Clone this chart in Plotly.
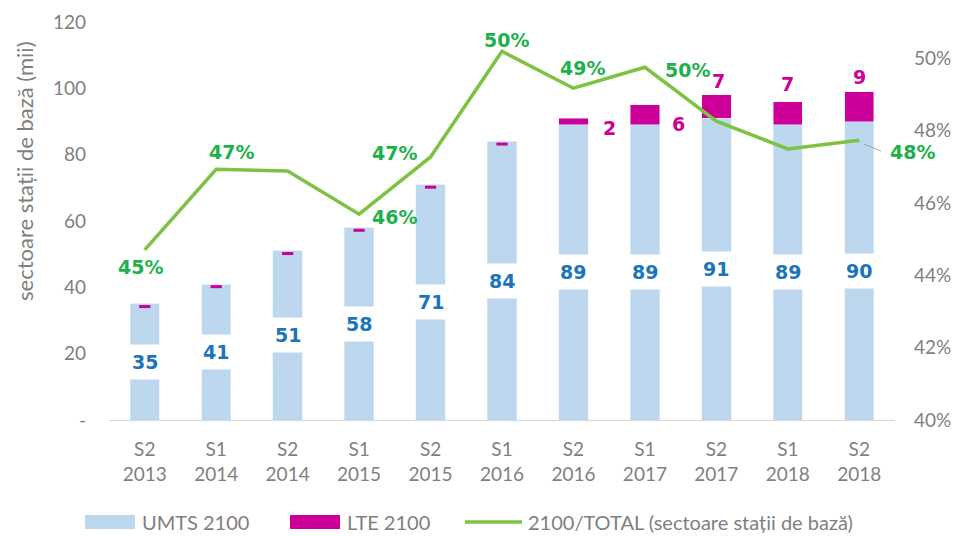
import plotly.graph_objects as go

categories = ["S2<br>2013", "S1<br>2014", "S2<br>2014", "S1<br>2015", "S2<br>2015",
              "S1<br>2016", "S2<br>2016", "S1<br>2017", "S2<br>2017", "S1<br>2018", "S2<br>2018"]
umts = [35, 41, 51, 58, 71, 84, 89, 89, 91, 89, 90]
lte = [0, 0, 0, 0, 0, 0, 2, 6, 7, 7, 9]
lte_small_marks = [True, True, True, True, True, True, False, False, False, False, False]
share = [0.447, 0.4693, 0.4688, 0.4569, 0.4727, 0.5019, 0.4917, 0.4975, 0.4826, 0.4749, 0.4773]
share_labels = ["45%", "47%", "", "46%", "47%", "50%", "49%", "50%", "", "", "48%"]
left_ticks = [0, 20, 40, 60, 80, 100, 120]
left_ticktext = ["-", "20", "40", "60", "80", "100", "120"]
right_ticks = [0.40, 0.42, 0.44, 0.46, 0.48, 0.50]
series_names = ["UMTS 2100", "LTE 2100", "2100/TOTAL (sectoare stații de bază)"]
y_title = "sectoare stații de bază (mii)"

BLUE_BAR = "#BDD7EE"
PINK = "#CC0099"
GREEN_LINE = "#7DC243"
GREEN_TXT = "#1DB14B"
BLUE_TXT = "#1B75BC"
GRAY = "#7F7F7F"
FONT = "Lato"
LBL_FONT = "DejaVu Sans"

# plot area geometry (pixels)
L, T, W, H = 109, 22, 786, 398


def px_x(p):
    return (p - L) / W


def px_y(p):
    return (T + H - p) / H


fig = go.Figure()
fig.add_trace(go.Bar(x=categories, y=umts, name=series_names[0], marker_color=BLUE_BAR,
                     width=0.41, hoverinfo="skip", showlegend=False))
fig.add_trace(go.Bar(x=categories, y=lte, name=series_names[1], marker_color=PINK,
                     width=0.41, hoverinfo="skip", showlegend=False))
mx = [c for c, m in zip(categories, lte_small_marks) if m]
my = [u - 0.8 for u, m in zip(umts, lte_small_marks) if m]
fig.add_trace(go.Scatter(x=mx, y=my, mode="markers", showlegend=False, hoverinfo="skip",
                         marker=dict(symbol="line-ew", size=8, line=dict(color=PINK, width=3))))
fig.add_trace(go.Scatter(x=categories, y=share, name=series_names[2], showlegend=False,
                         mode="lines", line=dict(color=GREEN_LINE, width=3.5), yaxis="y2",
                         hoverinfo="skip"))
fig.update_layout(barmode="stack")

annotations = []
for c, u in zip(categories, umts):
    annotations.append(dict(x=c, y=u / 2, text=f"<b>{u}</b>", showarrow=False,
                            font=dict(family=LBL_FONT, size=19, color=BLUE_TXT),
                            bgcolor="white", borderpad=6))
lte_pos = {6: (36, -10), 7: (34, -19), 8: (2, 14), 9: (0, 18), 10: (0, 15)}
for i, v in enumerate(lte):
    if v > 0:
        xs, ys = lte_pos[i]
        annotations.append(dict(x=categories[i], y=umts[i] + v, text=f"<b>{v}</b>",
                                showarrow=False, xshift=xs, yshift=ys,
                                font=dict(family=LBL_FONT, size=19, color=PINK)))
share_pos = {0: (-4, -17), 1: (15, 17), 3: (35, -3), 4: (-36, 4), 5: (4, 11),
             6: (9, 20), 7: (43, -3), 10: (53, -12)}
for i, t in enumerate(share_labels):
    if not t:
        continue
    xs, ys = share_pos[i]
    annotations.append(dict(x=categories[i], y=share[i], yref="y2", text=f"<b>{t}</b>",
                            showarrow=False, xshift=xs, yshift=ys,
                            font=dict(family=LBL_FONT, size=19, color=GREEN_TXT)))

# y-axis title placed as in the reference (above centre)
annotations.append(dict(x=px_x(24), y=px_y(171), xref="paper", yref="paper", text=y_title,
                        xanchor="center", yanchor="middle",
                        textangle=-90, showarrow=False,
                        font=dict(family=FONT, size=22, color=GRAY)))

shapes = []
# leader line for the last share label
shapes.append(dict(type="line", xref="paper", yref="paper",
                   x0=px_x(864), y0=px_y(144), x1=px_x(881), y1=px_y(151),
                   line=dict(color="#A6A6A6", width=1)))
# custom legend
shapes.append(dict(type="rect", xref="paper", yref="paper", x0=px_x(85), x1=px_x(135),
                   y0=px_y(515), y1=px_y(529), fillcolor=BLUE_BAR, line=dict(width=0)))
shapes.append(dict(type="rect", xref="paper", yref="paper", x0=px_x(290), x1=px_x(340),
                   y0=px_y(515), y1=px_y(529), fillcolor=PINK, line=dict(width=0)))
shapes.append(dict(type="line", xref="paper", yref="paper", x0=px_x(465), x1=px_x(522),
                   y0=px_y(522), y1=px_y(522), line=dict(color=GREEN_LINE, width=3.5)))
for name, xp in zip(series_names, [140, 345, 526]):
    annotations.append(dict(x=px_x(xp), y=px_y(522), xref="paper", yref="paper",
                            xanchor="left", yanchor="middle", text=name, showarrow=False,
                            font=dict(family=FONT, size=20, color=GRAY)))

fig.update_layout(
    width=956, height=536,
    margin=dict(l=L, r=956 - L - W, t=T, b=536 - T - H, autoexpand=False),
    paper_bgcolor="white", plot_bgcolor="white",
    font=dict(family=FONT, color=GRAY, size=19),
    showlegend=False,
    xaxis=dict(tickfont=dict(family=FONT, size=19, color=GRAY), showline=True,
               linecolor="#D9D9D9", linewidth=1, ticks="", showgrid=False,
               range=[-0.5, len(categories) - 0.5],
               ticklabelstandoff=12, automargin=False),
    yaxis=dict(range=[0, 120], tickvals=left_ticks, ticktext=left_ticktext,
               showgrid=False, zeroline=False, ticks="", automargin=False,
               tickfont=dict(family=FONT, size=19, color=GRAY), ticklabelstandoff=22),
    yaxis2=dict(range=[0.40, 0.51], tickvals=right_ticks, tickformat=".0%",
                overlaying="y", side="right", showgrid=False, zeroline=False,
                automargin=False, ticklabelstandoff=18,
                tickfont=dict(family=FONT, size=19, color=GRAY), ticks=""),
    annotations=annotations,
    shapes=shapes,
)

fig.write_html("out.html")
